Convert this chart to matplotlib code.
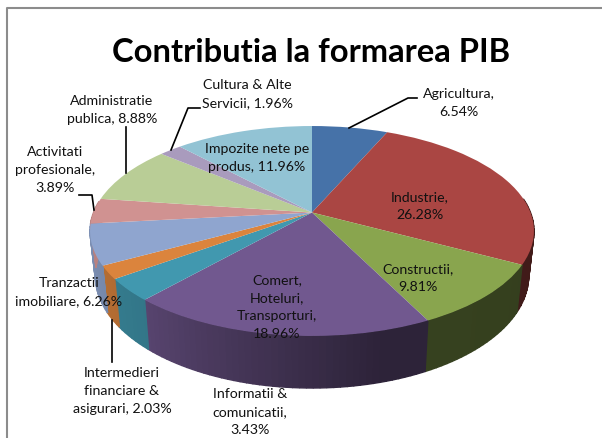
import matplotlib
matplotlib.use("Agg")
import matplotlib.pyplot as plt
import numpy as np
from matplotlib.path import Path
from matplotlib.transforms import Transform

plt.rcParams["font.family"] = ["Lato", "DejaVu Sans"]

names = ["Agricultura,", "Industrie,", "Constructii,", "Comert,\nHoteluri,\nTransporturi,",
         "Informatii &\ncomunicatii,", "Intermedieri\nfinanciare &\nasigurari,", "Tranzactii\nimobiliare,",
         "Activitati\nprofesionale,", "Administratie\npublica,", "Cultura & Alte\nServicii,",
         "Impozite nete pe\nprodus,"]
values = [6.54, 26.28, 9.81, 18.96, 3.43, 2.03, 6.26, 3.89, 8.88, 1.96, 11.96]
seps = ["\n", "\n", "\n", "\n", "\n", " ", " ", "\n", " ", " ", " "]
colors = ["#4672a8", "#aa4643", "#89a54e", "#71588f", "#4198af", "#db843d",
          "#8fa5cf", "#d09291", "#b9cd96", "#a99bbd", "#92c3d4"]

label_pos = [(459, 103), (420, 206), (418, 278), (277, 307), (250, 412), (122, 391),
             (69, 292), (55, 170), (112, 110), (247, 94), (257, 158)]

# the disc is a circle seen in perspective, apex is not in the middle of the ellipse
cx, cy = 312, 212.5
bx, ay, k = 218.5, 101.7, 0.176


class TopFace(Transform):
    input_dims = 2
    output_dims = 2

    def transform_non_affine(self, values):
        u, v = values[:, 0], values[:, 1]
        w = 1 + k * v
        return np.column_stack([cx + bx * u / w, cy - ay * v / w])

    def transform_path_non_affine(self, path):
        return Path(self.transform_non_affine(path.vertices), path.codes)


def to_bottom(xy):
    x = cx + 0.976 * (xy[:, 0] - cx)
    y = xy[:, 1] + 47 + 0.07 * (xy[:, 1] - 263)
    return np.column_stack([x, y])


def shade(theta):
    cw = (90 - theta) % 360
    return np.interp(cw, [110, 165, 222, 270], [0.38, 0.40, 0.78, 0.9])


fig = plt.figure(figsize=(6.02, 4.38), dpi=100)
ax = fig.add_axes([0, 0, 1, 1])

wedges, _ = ax.pie(values, colors=colors, startangle=90, counterclock=False, radius=1)
ax.set_aspect("auto")
ax.set_xlim(0, 602)
ax.set_ylim(438, 0)
ax.axis("off")

top = TopFace()
for w, c in zip(wedges, colors):
    w.set_transform(top + ax.transData)
    w.set_zorder(3)
    # side wall, cut in thin strips for the shading
    th = np.arange(w.theta1, w.theta2 + 1, 1.5)
    th = np.append(th[th < w.theta2], w.theta2)
    for t0, t1 in zip(th[:-1], th[1:]):
        if np.sin(np.radians(t0)) > 0.12:
            continue
        a = np.radians([t0, t1])
        up = top.transform_non_affine(np.column_stack([np.cos(a), np.sin(a)]))
        low = to_bottom(up)
        quad = np.vstack([up, low[::-1]])
        col = np.array(matplotlib.colors.to_rgb(c)) * shade((t0 + t1) / 2)
        ax.fill(quad[:, 0], quad[:, 1], facecolor=col, edgecolor=col, lw=1.0, zorder=2)

# leader lines
ax.plot([349, 408, 417], [128, 98, 98], color="black", lw=1.2, zorder=4)
ax.plot([171, 188, 200], [150, 108, 108], color="black", lw=1.2, zorder=4)
ax.plot([125.5, 125.5], [173, 127], color="black", lw=1.2, zorder=4)
ax.plot([94, 92, 79], [210, 195, 195], color="black", lw=1.2, zorder=4)
ax.plot([112, 112], [320, 362], color="black", lw=1.2, zorder=4)

for name, val, sep, pos in zip(names, values, seps, label_pos):
    ax.text(pos[0], pos[1], f"{name}{sep}{val:.2f}%", ha="center", va="center",
            fontsize=10.2, linespacing=1.62, color="#111111", zorder=5)

ax.text(311, 52, "Contributia la formarea PIB", ha="center", va="center",
        fontsize=23.6, fontweight="bold", color="black")

# chart frame
ax.plot([7, 7, 602], [438, 8, 8], color="#8c8c8c", lw=1.5)

fig.savefig("out.png", dpi=100)
